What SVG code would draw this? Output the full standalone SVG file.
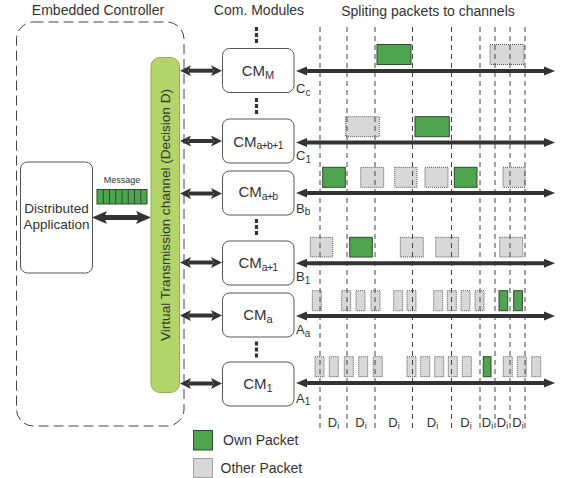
<svg xmlns="http://www.w3.org/2000/svg" width="566" height="478" viewBox="0 0 566 478">
<defs>
<style>
text{font-family:"Liberation Sans",Arial,sans-serif;fill:#333}
.t14{font-size:14px}
.mod{fill:#fff;stroke:#555;stroke-width:1}
.cm{font-size:15px;text-anchor:middle}
.lab{font-size:13px}
.own{fill:#4fa54f;stroke:#2f4a2f;stroke-width:1}
.oth{fill:#d8d8d8;stroke:#555;stroke-width:1;stroke-dasharray:1 1}
.vd{stroke:#444;stroke-width:1;stroke-dasharray:5 4;fill:none}
.bus{stroke:#333;stroke-width:4;fill:none;marker-start:url(#bh);marker-end:url(#bh)}
.dbl{stroke:#333;stroke-width:4;fill:none;marker-start:url(#ah);marker-end:url(#ah)}
.dots{stroke:#333;stroke-width:3.2;fill:none;stroke-dasharray:4 2}
</style>
<marker id="bh" markerUnits="userSpaceOnUse" viewBox="0 0 11 10" refX="1" refY="5" markerWidth="11" markerHeight="10" orient="auto-start-reverse">
<path d="M0,0.5 L11,5 L0,9.5 z" fill="#333"/>
</marker>
<marker id="ah" markerUnits="userSpaceOnUse" viewBox="0 0 11 11" refX="2" refY="5.5" markerWidth="11" markerHeight="11" orient="auto-start-reverse">
<path d="M0,0 L11,5.5 L0,11 L2.5,5.5 z" fill="#333"/>
</marker>
<marker id="bigh" markerUnits="userSpaceOnUse" viewBox="0 0 15 13" refX="3" refY="6.5" markerWidth="15" markerHeight="13" orient="auto-start-reverse">
<path d="M0,0 L15,6.5 L0,13 L3,6.5 z" fill="#333"/>
</marker>
</defs>
<rect width="566" height="478" fill="#fff"/>

<!-- titles -->
<text class="t14" x="98" y="15" text-anchor="middle">Embedded Controller</text>
<text class="t14" x="259" y="15" text-anchor="middle">Com. Modules</text>
<text class="t14" x="428" y="16" text-anchor="middle">Spliting packets to channels</text>

<!-- embedded controller -->
<g id="embedded-controller">
<rect x="16.5" y="22" width="167.5" height="404" rx="17" fill="none" stroke="#444" stroke-width="1" stroke-dasharray="10 5"/>
</g>

<g id="distributed-application">
<rect x="20.5" y="162" width="72" height="111" rx="7" fill="#fff" stroke="#555"/>
<text x="56.5" y="212.5" font-size="13.5" text-anchor="middle">Distributed</text>
<text x="56.5" y="228.5" font-size="13.5" text-anchor="middle">Application</text>
</g>

<g id="message">
<text x="122" y="183" font-size="9" text-anchor="middle">Message</text>
<rect x="97" y="189.5" width="50" height="14.5" fill="#4fa54f" stroke="#2f4a2f"/>
<path d="M103.25,189.5V204M109.5,189.5V204M115.75,189.5V204M122,189.5V204M128.25,189.5V204M134.5,189.5V204M140.75,189.5V204" stroke="#2f4a2f" stroke-width="1"/>
</g>

<g id="virtual-channel">
<rect x="151" y="57.5" width="28.5" height="335" rx="9" fill="#b3d46b" stroke="#8fae4f"/>
<text transform="translate(170,215) rotate(-90)" font-size="13.6" text-anchor="middle">Virtual Transmission channel (Decision D)</text>
</g>

<!-- modules -->
<g id="cm-M">
<rect class="mod" x="222.5" y="48.5" width="71.5" height="44" rx="7"/>
<text class="cm" x="258" y="76">CM<tspan font-size="11" dy="2.5">M</tspan></text>
<text class="lab" x="296" y="93">C<tspan font-size="10" dy="2.5">c</tspan></text>
</g>
<g id="cm-ab1">
<rect class="mod" x="222.5" y="119" width="71.5" height="44" rx="7"/>
<text class="cm" x="258" y="146.5">CM<tspan font-size="10.5" dy="2.5" letter-spacing="-0.7">a+b+1</tspan></text>
<text class="lab" x="296" y="160">C<tspan font-size="10" dy="2.5">1</tspan></text>
</g>
<g id="cm-ab">
<rect class="mod" x="222.5" y="171" width="71.5" height="44" rx="7"/>
<text class="cm" x="258" y="197">CM<tspan font-size="10.5" dy="2.5" letter-spacing="-0.7">a+b</tspan></text>
<text class="lab" x="296" y="212.5">B<tspan font-size="10" dy="2.5">b</tspan></text>
</g>
<g id="cm-a1">
<rect class="mod" x="222.5" y="241" width="71.5" height="44" rx="7"/>
<text class="cm" x="258" y="268">CM<tspan font-size="10.5" dy="2.5" letter-spacing="-0.7">a+1</tspan></text>
<text class="lab" x="296" y="281">B<tspan font-size="10" dy="2.5">1</tspan></text>
</g>
<g id="cm-a">
<rect class="mod" x="222.5" y="293" width="71.5" height="44" rx="7"/>
<text class="cm" x="258" y="320">CM<tspan font-size="11" dy="2.5">a</tspan></text>
<text class="lab" x="296" y="334">A<tspan font-size="10" dy="2.5">a</tspan></text>
</g>
<g id="cm-1">
<rect class="mod" x="222.5" y="362" width="71.5" height="44" rx="7"/>
<text class="cm" x="258" y="389">CM<tspan font-size="11" dy="2.5">1</tspan></text>
<text class="lab" x="296" y="402.5">A<tspan font-size="10" dy="2.5">1</tspan></text>
</g>

<!-- ellipsis dots -->
<g id="ellipses">
<path class="dots" d="M256.5,27V43M256.5,98V115M256.5,219V237M256.5,341.5V358.5"/>
</g>

<!-- packets -->
<g id="packets">
<rect class="own" x="377" y="44.5" width="34" height="20"/>
<rect class="oth" x="490" y="44.5" width="34" height="20"/>

<rect class="oth" x="345.7" y="116.7" width="33.6" height="20"/>
<rect class="own" x="415" y="116.7" width="34.3" height="20"/>

<rect class="own" x="322.7" y="167.3" width="22.6" height="20"/>
<rect class="oth" x="360.7" y="167.3" width="23" height="20"/>
<rect class="oth" x="394.7" y="167.3" width="22.3" height="20"/>
<rect class="oth" x="425" y="167.3" width="23" height="20"/>
<rect class="own" x="454.3" y="167.3" width="22.7" height="20"/>
<rect class="oth" x="503" y="167.3" width="22" height="20"/>

<rect class="oth" x="310.3" y="237.3" width="22.4" height="19.7"/>
<rect class="own" x="349.7" y="237.3" width="22.6" height="19.7"/>
<rect class="oth" x="400.3" y="237.3" width="23" height="19.7"/>
<rect class="oth" x="435.7" y="237.3" width="23" height="19.7"/>
<rect class="oth" x="499.7" y="237.3" width="23" height="19.7"/>

<rect class="oth" x="312.3" y="290.7" width="9" height="20"/>
<rect class="oth" x="341.7" y="290.7" width="9" height="20"/>
<rect class="oth" x="356" y="290.7" width="9" height="20"/>
<rect class="oth" x="371" y="290.7" width="9" height="20"/>
<rect class="oth" x="393.7" y="290.7" width="9" height="20"/>
<rect class="oth" x="407" y="290.7" width="9" height="20"/>
<rect class="oth" x="433.7" y="290.7" width="9" height="20"/>
<rect class="oth" x="447.3" y="290.7" width="9" height="20"/>
<rect class="oth" x="461" y="290.7" width="9" height="20"/>
<rect class="oth" x="475" y="290.7" width="9" height="20"/>
<rect class="own" x="499" y="290.7" width="8.7" height="20"/>
<rect class="own" x="513.7" y="290.7" width="8.7" height="20"/>

<rect class="oth" x="315" y="356.7" width="9" height="20"/>
<rect class="oth" x="329.3" y="356.7" width="9" height="20"/>
<rect class="oth" x="344.3" y="356.7" width="9" height="20"/>
<rect class="oth" x="358.7" y="356.7" width="9" height="20"/>
<rect class="oth" x="373.3" y="356.7" width="9" height="20"/>
<rect class="oth" x="407" y="356.7" width="9" height="20"/>
<rect class="oth" x="420.7" y="356.7" width="9" height="20"/>
<rect class="oth" x="434.7" y="356.7" width="9" height="20"/>
<rect class="oth" x="448.3" y="356.7" width="9" height="20"/>
<rect class="oth" x="462.3" y="356.7" width="9" height="20"/>
<rect class="own" x="483.3" y="356.7" width="7.7" height="20"/>
<rect class="oth" x="503.3" y="356.7" width="9" height="20"/>
<rect class="oth" x="517.3" y="356.7" width="9" height="20"/>
<rect class="oth" x="531.7" y="356.7" width="9" height="20"/>
</g>

<!-- channel dividers -->
<g id="dividers">
<path class="vd" d="M320,27V428M347,27V428M375,27V428M412.5,27V428M451.5,27V428M480,27V428M495,27V428M510,27V428M525,27V428"/>
</g>

<!-- connectors -->
<g id="connectors">
<line class="bus" x1="306" y1="71" x2="545" y2="71"/>
<line class="bus" x1="306" y1="142.5" x2="545" y2="142.5"/>
<line class="bus" x1="306" y1="193" x2="545" y2="193"/>
<line class="bus" x1="306" y1="263.3" x2="545" y2="263.3"/>
<line class="bus" x1="306" y1="316" x2="545" y2="316"/>
<line class="bus" x1="306" y1="383" x2="545" y2="383"/>

<line class="dbl" x1="189" y1="70.7" x2="213" y2="70.7"/>
<line class="dbl" x1="189" y1="141" x2="213" y2="141"/>
<line class="dbl" x1="189" y1="193.5" x2="213" y2="193.5"/>
<line class="dbl" x1="189" y1="262.5" x2="213" y2="262.5"/>
<line class="dbl" x1="189" y1="315.5" x2="213" y2="315.5"/>
<line class="dbl" x1="189" y1="383.5" x2="213" y2="383.5"/>

<line x1="104" y1="217.5" x2="139" y2="217.5" stroke="#333" stroke-width="5" marker-start="url(#bigh)" marker-end="url(#bigh)"/>
</g>

<!-- Di labels -->
<g id="di-labels" font-size="13">
<text x="333.5" y="427" text-anchor="middle">D<tspan font-size="9" dy="2">i</tspan></text>
<text x="361" y="427" text-anchor="middle">D<tspan font-size="9" dy="2">i</tspan></text>
<text x="394" y="427" text-anchor="middle">D<tspan font-size="9" dy="2">i</tspan></text>
<text x="432.5" y="427" text-anchor="middle">D<tspan font-size="9" dy="2">i</tspan></text>
<text x="466" y="427" text-anchor="middle">D<tspan font-size="9" dy="2">i</tspan></text>
<text x="487.5" y="427" text-anchor="middle">D<tspan font-size="9" dy="2">i</tspan></text>
<text x="502.5" y="427" text-anchor="middle">D<tspan font-size="9" dy="2">i</tspan></text>
<text x="518" y="427" text-anchor="middle">D<tspan font-size="9" dy="2">i</tspan></text>
</g>

<!-- legend -->
<g id="legend">
<rect class="own" x="193.5" y="430.5" width="19" height="19.5"/>
<text class="t14" x="223" y="444.5">Own Packet</text>
<rect class="oth" x="193.5" y="458.5" width="19" height="19"/>
<text class="t14" x="220.5" y="473">Other Packet</text>
</g>
</svg>
